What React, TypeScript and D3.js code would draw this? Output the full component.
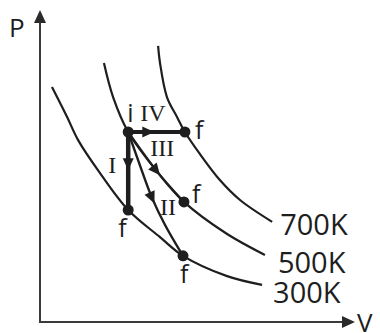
import React, { useRef, useEffect } from 'react';
import * as d3 from 'd3';

// isotherms (V, P in arbitrary units)
const v300 = [0.38, 0.86, 1.21, 1.9, 2.8, 3.81, 4.54, 5.94, 7.05];
const p300 = [7.53, 6.57, 5.83, 4.78, 3.59, 2.72, 2.12, 1.47, 1.19];

const v500 = [2.03, 2.32, 2.8, 3.75, 4.57, 5.94, 7.14];
const p500 = [8.3, 7.21, 6.09, 4.78, 3.85, 2.82, 2.15];

const v700 = [3.75, 3.81, 4.03, 4.35, 4.6, 5.08, 5.71, 6.35, 7.37];
const p700 = [8.85, 8.3, 7.21, 6.57, 6.09, 5.38, 4.55, 3.91, 3.21];

const tempLabels = ['300K', '500K', '700K'];

// initial and final states
const stateI = [2.8, 6.09];
const finalI = [2.8, 3.59];
const finalII = [4.54, 2.12];
const finalIII = [4.57, 3.85];
const finalIV = [4.6, 6.09];

// process II (curved, ends on 300K)
const vII = [2.8, 3.17, 3.56, 3.97, 4.54];
const pII = [6.09, 5.03, 3.97, 3.11, 2.12];

// process III runs along the 500K isotherm
const vIII = [2.8, 3.75, 4.57];
const pIII = [6.09, 4.78, 3.85];

const ink = '#1e1e1e';

const App = () => {
  const svgRef = useRef<SVGSVGElement>(null);

  useEffect(() => {
    const width = 380;
    const height = 333;
    const svg = d3.select(svgRef.current).attr('width', width).attr('height', height);
    svg.selectAll('*').remove();

    const x = d3.scaleLinear().domain([0, 10]).range([40, 355]);
    const y = d3.scaleLinear().domain([0, 10]).range([322, 10]);

    const line = d3.line<number[]>()
      .x(d => x(d[0]))
      .y(d => y(d[1]))
      .curve(d3.curveCatmullRom.alpha(0.5));

    const zip = (vs: number[], ps: number[]) => vs.map((v, i) => [v, ps[i]]);

    // axes with arrows
    const axis = svg.append('g').attr('stroke', '#3a3a3a').attr('fill', '#2a2a2a');
    axis.append('line')
      .attr('x1', x(0)).attr('y1', y(0) + 1)
      .attr('x2', x(0)).attr('y2', y(10) + 8)
      .attr('stroke-width', 2);
    axis.append('line')
      .attr('x1', x(0) - 1).attr('y1', y(0))
      .attr('x2', x(10) - 8).attr('y2', y(0))
      .attr('stroke-width', 2);
    axis.append('path')
      .attr('stroke', 'none')
      .attr('d', `M${x(0)},${y(10)} L${x(0) - 6},${y(10) + 13} L${x(0) + 6},${y(10) + 13} Z`);
    axis.append('path')
      .attr('stroke', 'none')
      .attr('d', `M${x(10)},${y(0)} L${x(10) - 13},${y(0) - 6} L${x(10) - 13},${y(0) + 6} Z`);

    svg.append('text').text('P')
      .attr('x', 9).attr('y', 37)
      .attr('font-family', 'Open Sans').attr('font-size', 26).attr('fill', ink);
    svg.append('text').text('V')
      .attr('x', 357).attr('y', 332)
      .attr('font-family', 'Open Sans').attr('font-size', 26).attr('fill', ink);

    // isotherms
    const curves = [zip(v300, p300), zip(v500, p500), zip(v700, p700)];
    const labelOffsets = [[11, 18], [13, 18], [8, 13]];
    const iso = svg.append('g');
    curves.forEach((pts, k) => {
      iso.append('path')
        .attr('d', line(pts))
        .attr('fill', 'none')
        .attr('stroke', ink)
        .attr('stroke-width', 2.2);
      const end = pts[pts.length - 1];
      iso.append('text').text(tempLabels[k])
        .attr('x', x(end[0]) + labelOffsets[k][0])
        .attr('y', y(end[1]) + labelOffsets[k][1])
        .attr('font-family', 'Open Sans').attr('font-size', 29).attr('fill', ink);
    });

    // processes
    const proc = svg.append('g').attr('fill', 'none').attr('stroke', ink);
    const pathI = proc.append('path').attr('d', line([stateI, finalI])).attr('stroke-width', 4.5);
    const pathII = proc.append('path').attr('d', line(zip(vII, pII))).attr('stroke-width', 2.4);
    const pathIII = proc.append('path').attr('d', line(zip(vIII, pIII))).attr('stroke-width', 2.2);
    const pathIV = proc.append('path').attr('d', line([stateI, finalIV])).attr('stroke-width', 4);

    const arrowHead = (node: SVGPathElement, frac: number) => {
      const total = node.getTotalLength();
      const at = total * frac;
      const tip = node.getPointAtLength(at);
      const back = node.getPointAtLength(Math.max(0, at - 3));
      const ang = Math.atan2(tip.y - back.y, tip.x - back.x) * 180 / Math.PI;
      svg.append('path')
        .attr('d', 'M0,0 L-12,-5.5 L-12,5.5 Z')
        .attr('transform', `translate(${tip.x},${tip.y}) rotate(${ang})`)
        .attr('fill', ink);
    };
    arrowHead(pathI.node() as SVGPathElement, 0.49);
    arrowHead(pathII.node() as SVGPathElement, 0.56);
    arrowHead(pathIII.node() as SVGPathElement, 0.6);
    arrowHead(pathIV.node() as SVGPathElement, 0.46);

    // state points
    const dots = [stateI, finalI, finalII, finalIII, finalIV];
    svg.append('g').selectAll('circle')
      .data(dots)
      .enter()
      .append('circle')
      .attr('cx', d => x(d[0]))
      .attr('cy', d => y(d[1]))
      .attr('r', 5.5)
      .attr('fill', ink);

    // point labels
    const sans = [
      { t: 'i', at: stateI, dx: -1, dy: -10 },
      { t: 'f', at: finalIV, dx: 10, dy: 7 },
      { t: 'f', at: finalIII, dx: 8, dy: 1 },
      { t: 'f', at: finalI, dx: -10, dy: 27 },
      { t: 'f', at: finalII, dx: -3, dy: 27 }
    ];
    sans.forEach(l => {
      svg.append('text').text(l.t)
        .attr('x', x(l.at[0]) + l.dx).attr('y', y(l.at[1]) + l.dy)
        .attr('font-family', 'Open Sans').attr('font-size', 25).attr('fill', ink);
    });

    const roman = [
      { t: 'IV', at: stateI, dx: 12, dy: -11 },
      { t: 'III', at: stateI, dx: 22, dy: 24 },
      { t: 'I', at: stateI, dx: -20, dy: 41 },
      { t: 'II', at: finalII, dx: -23, dy: -41 }
    ];
    roman.forEach(l => {
      svg.append('text').text(l.t)
        .attr('x', x(l.at[0]) + l.dx).attr('y', y(l.at[1]) + l.dy)
        .attr('font-family', 'Liberation Serif').attr('font-size', 24).attr('fill', ink);
    });
  }, []);

  return (
    <div style={{ position: 'absolute', left: 0, top: 0 }}>
      <svg ref={svgRef} style={{ display: 'block' }}></svg>
    </div>
  );
};

export default App;
